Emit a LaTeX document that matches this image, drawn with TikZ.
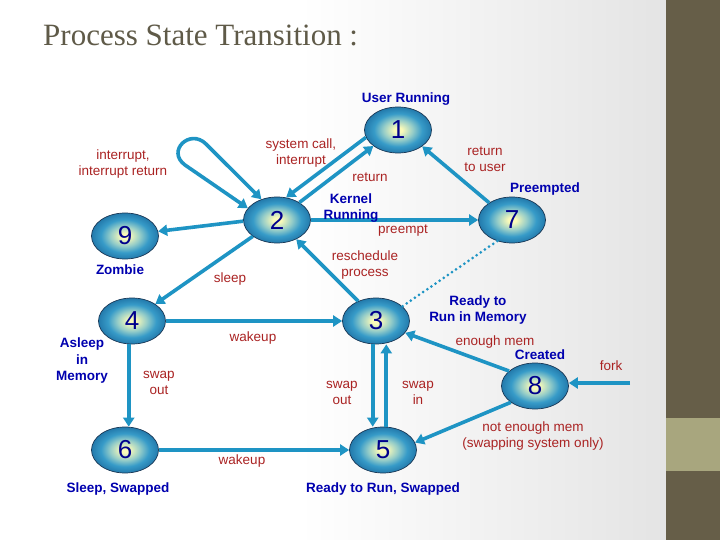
\documentclass[tikz,border=0pt]{standalone}
\usepackage{fontspec}
\setmainfont{Liberation Sans}
\newfontfamily\titlefont{Liberation Serif}
\usetikzlibrary{shapes.geometric,arrows.meta,calc}
\definecolor{arrc}{RGB}{30,148,196}
\definecolor{stroke}{RGB}{25,55,85}
\definecolor{digitc}{RGB}{0,0,140}
\definecolor{redc}{RGB}{170,35,35}
\definecolor{bluec}{RGB}{0,0,175}
\definecolor{titlec}{RGB}{95,90,72}
\definecolor{bgr}{RGB}{228,228,228}
\definecolor{strip}{RGB}{102,94,72}
\definecolor{stripl}{RGB}{168,166,126}
\definecolor{ca}{RGB}{250,250,185}
\definecolor{cb}{RGB}{150,205,200}
\definecolor{cc}{RGB}{55,155,200}
\definecolor{cd}{RGB}{35,122,172}
\pgfdeclareradialshading{ball}{\pgfpoint{0bp}{0bp}}{color(0bp)=(ca); color(3bp)=(ca); color(11bp)=(cb); color(18bp)=(cc); color(25bp)=(cd); color(50bp)=(cd)}
\tikzset{
  state/.style={ellipse, draw=stroke, line width=0.7pt, minimum width=67pt, minimum height=46pt,
    inner sep=0pt, shading=ball, text=digitc, font=\fontsize{26}{26}\selectfont},
  arrow/.style={draw=arrc, line width=3.6pt, >={Triangle[length=9pt,width=11pt]}, ->},
  dotline/.style={draw=arrc, line width=3pt, dash pattern=on 0pt off 5pt, line cap=round},
  redlab/.style={text=redc, font=\fontsize{13.5}{15.5}\selectfont, align=center, inner sep=0pt},
  bluelab/.style={text=bluec, font=\bfseries\fontsize{13.5}{16.5}\selectfont, align=center, inner sep=0pt}
}
\begin{document}
\begin{tikzpicture}[x=1pt,y=-1pt]
\useasboundingbox (0,0) rectangle (720,540);
\fill[white] (0,0) rectangle (720,540);
\shade[left color=white, right color=bgr] (300,0) rectangle (666,540);
\fill[strip] (666,0) rectangle (720,540);
\fill[stripl] (666,418) rectangle (720,471);

\node[anchor=base west, text=titlec, font=\titlefont\fontsize{31}{31}\selectfont, inner sep=0pt] (title) at (43,46) {Process State Transition :};

\node[state] (n1) at (398,130) {1};
\node[state] (n2) at (277,220) {2};
\node[state] (n9) at (125,236) {9};
\node[state] (n7) at (512,220) {7};
\node[state] (n4) at (132,321) {4};
\node[state] (n3) at (376,321) {3};
\node[state] (n6) at (125,450) {6};
\node[state] (n5) at (383,450) {5};
\node[state] (n8) at (535,386) {8};

\draw[arrow] (n1.193) -- (n2.68);
\draw[arrow] (n2.38) -- (n1.213);
\draw[arrow,<->] (n2.158) -- (185,165) .. controls (166,151) and (190,128) .. (206,144) -- (n2.127);
\draw[arrow] (n2.182) -- (n9.8);
\draw[arrow] (n2.east) -- (n7.west);
\draw[arrow] (n7.143) -- (n1.326);
\draw[dotline] (n7.235) -- (n3.29);
\draw[arrow] (n3.132) -- (n2.315);
\draw[arrow] (n2.214) -- (n4.36);
\draw[arrow] (n4.east) -- (n3.west);
\draw[arrow] (n4.262) -- (n4.262 |- n6.north);
\draw[arrow] (n6.east) -- (n5.west);
\draw[arrow] (n3.262) -- (n3.262 |- n5.north);
\draw[arrow] (n5.82) -- (n5.82 |- n3.south);
\draw[arrow] (n8.150) -- (n3.338);
\draw[arrow] (n8.214) -- (n5.13);
\coordinate (fk) at (630,383);
\draw[arrow] (fk) -- (fk -| n8.east);

\node[bluelab] (l1) at (406,99) {User Running};
\node[bluelab] (l2) at (351,208) {Kernel\\Running};
\node[bluelab] (l7) at (545,189) {Preempted};
\node[bluelab] (l9) at (120,270) {Zombie};
\node[bluelab] (l4) at (82,361) {Asleep\\in\\Memory};
\node[bluelab] (l6) at (118,489) {Sleep, Swapped};
\node[bluelab] (l3) at (478,310) {Ready to\\Run in Memory};
\node[bluelab] (l8) at (540,355) {Created};
\node[bluelab] (l5) at (383,489) {Ready to Run, Swapped};

\node[redlab] (t1) at (301,153) {system call,\\interrupt};
\node[redlab] (t2) at (123,164) {interrupt,\\interrupt return};
\node[redlab] (t3) at (370,177) {return};
\node[redlab] (t4) at (485,159) {return\\to user};
\node[redlab] (t5) at (403,231) {preempt};
\node[redlab] (t6) at (365,265) {reschedule\\process};
\node[redlab] (t7) at (230,279) {sleep};
\node[redlab] (t8) at (253,338) {wakeup};
\node[redlab] (t9) at (159,383) {swap\\out};
\node[redlab] (t10) at (242,461) {wakeup};
\node[redlab] (t11) at (342,393) {swap\\out};
\node[redlab] (t12) at (418,393) {swap\\in};
\node[redlab] (t13) at (495,342) {enough mem};
\node[redlab] (t14) at (611,366) {fork};
\node[redlab] (t15) at (533,436) {not enough mem\\(swapping system only)};
\end{tikzpicture}
\end{document}
